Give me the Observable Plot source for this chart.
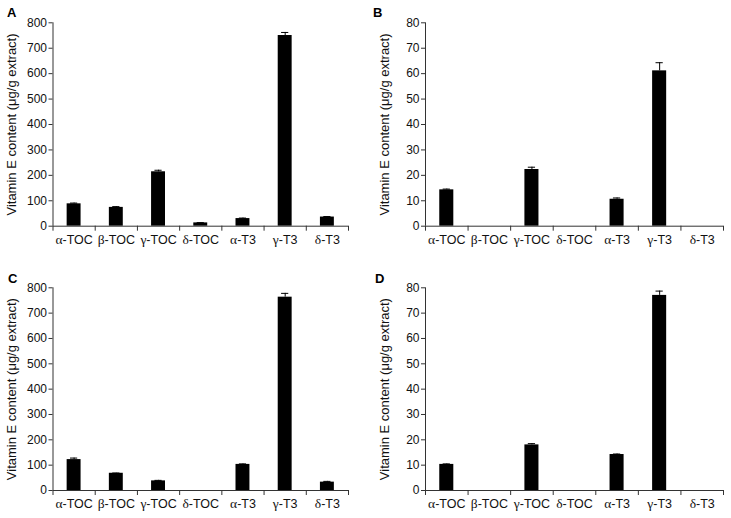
<!DOCTYPE html>
<html><head><meta charset="utf-8">
<script src="https://cdn.jsdelivr.net/npm/d3@7"></script>
<script src="https://cdn.jsdelivr.net/npm/@observablehq/plot@0.6"></script>
<style>
body{margin:0;background:#fff;}
#wrap{position:relative;width:731px;height:518px;font-family:"Liberation Sans",Arial,sans-serif;overflow:hidden;}
.panel{position:absolute;}
.letter{position:absolute;font-weight:bold;font-size:13px;line-height:15px;color:#000;}
</style></head><body><div id="wrap"></div>
<script>
const categories = ["α-TOC","β-TOC","γ-TOC","δ-TOC","α-T3","γ-T3","δ-T3"];
const valuesA = [88, 74, 214, 13, 30, 750, 36];
const errorsA = [3, 3, 6, 1, 2, 12, 2];
const valuesB = [14.3, 0, 22.3, 0, 10.6, 61.1, 0];
const errorsB = [0.3, 0, 0.9, 0, 0.5, 3.2, 0];
const valuesC = [122, 68, 38, 0, 103, 763, 33];
const errorsC = [6, 1, 2, 0, 2, 15, 3];
const valuesD = [10.3, 0, 18, 0, 14.2, 77, 0];
const errorsD = [0.2, 0, 0.5, 0, 0.2, 1.7, 0];
const yTicksLarge = [0, 100, 200, 300, 400, 500, 600, 700, 800];
const yTicksSmall = [0, 10, 20, 30, 40, 50, 60, 70, 80];
const yLabel = "Vitamin E content (μg/g extract)";
const panelLetters = ["A", "B", "C", "D"];

const panels = [
  {letter: panelLetters[0], values: valuesA, errors: errorsA, ticks: yTicksLarge, left: 0, top: 0, width: 365, mL: 52.5, mR: 17, mT: 22.3, mB: 33.3, lx: 7, ly: 5},
  {letter: panelLetters[1], values: valuesB, errors: errorsB, ticks: yTicksSmall, left: 365, top: 0, width: 366, mL: 60, mR: 8, mT: 22.3, mB: 33.3, lx: 373, ly: 5},
  {letter: panelLetters[2], values: valuesC, errors: errorsC, ticks: yTicksLarge, left: 0, top: 259, width: 365, mL: 52.5, mR: 17, mT: 28.3, mB: 28, lx: 8, ly: 271},
  {letter: panelLetters[3], values: valuesD, errors: errorsD, ticks: yTicksSmall, left: 365, top: 259, width: 366, mL: 60, mR: 8, mT: 28.3, mB: 28, lx: 375, ly: 271}
];

const wrap = document.getElementById("wrap");
const ns = "http://www.w3.org/2000/svg";
const axisColor = "#333";

for (const p of panels) {
  const rows = categories.map((c, i) => ({cat: c, i, value: p.values[i], err: p.errors[i]})).filter(d => d.value > 0);
  const chart = Plot.plot({
    width: p.width, height: 259,
    marginLeft: p.mL, marginRight: p.mR, marginTop: p.mT, marginBottom: p.mB,
    style: {fontFamily: "'Liberation Sans', Arial, sans-serif", fontSize: "12px", color: "#111", background: "transparent", overflow: "visible"},
    x: {type: "linear", domain: [0, categories.length]},
    y: {domain: [0, p.ticks[p.ticks.length - 1]]},
    marks: [
      Plot.rectY(rows, {x1: d => d.i + 0.335, x2: d => d.i + 0.665, y1: 0, y2: "value", fill: "#000"}),
      Plot.ruleX(rows, {x: d => d.i + 0.5, y1: "value", y2: d => d.value + d.err, stroke: "#000", strokeWidth: 1}),
      Plot.ruleY(rows, {y: d => d.value + d.err, x1: d => d.i + 0.415, x2: d => d.i + 0.585, stroke: "#000", strokeWidth: 1}),
      Plot.ruleY([0], {stroke: axisColor}),
      Plot.ruleX([0], {stroke: axisColor}),
      Plot.axisY({ticks: p.ticks, tickSize: 4, tickPadding: 2, label: null, stroke: axisColor}),
      Plot.axisX({ticks: d3.range(0, categories.length + 1), tickSize: 5, tickFormat: () => "", label: null, stroke: axisColor}),
      Plot.axisX({ticks: categories.map((c, i) => i + 0.5), tickSize: 0, tickPadding: 9, tickFormat: t => categories[Math.floor(t)], label: null}),
      Plot.text([yLabel], {text: d => d, frameAnchor: "left", textAnchor: "middle", lineAnchor: "middle", rotate: -90, dx: -41, fontSize: 13, fill: "#111"})
    ]
  });
  // serif Greek letters in category labels
  chart.querySelectorAll("text").forEach(t => {
    const s = t.textContent;
    if (categories.includes(s)) {
      t.textContent = "";
      const a = document.createElementNS(ns, "tspan");
      a.setAttribute("font-family", "'Liberation Serif', 'Times New Roman', serif");
      a.setAttribute("font-size", "13.5");
      a.textContent = s[0];
      const b = document.createElementNS(ns, "tspan");
      b.setAttribute("font-size", "12.5");
      b.textContent = s.slice(1);
      t.append(a, b);
    }
  });
  const div = document.createElement("div");
  div.className = "panel";
  div.style.left = p.left + "px";
  div.style.top = p.top + "px";
  div.appendChild(chart);
  wrap.appendChild(div);
  const L = document.createElement("div");
  L.className = "letter";
  L.style.left = p.lx + "px";
  L.style.top = p.ly + "px";
  L.textContent = p.letter;
  wrap.appendChild(L);
}
</script>
</body></html>
